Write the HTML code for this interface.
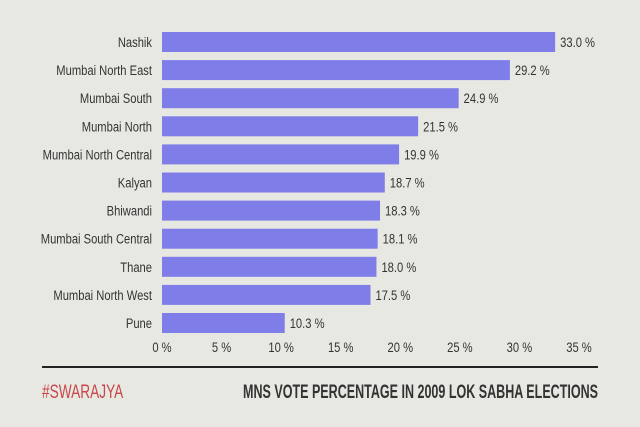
<!DOCTYPE html>
<html><head><meta charset="utf-8"><style>
html,body{margin:0;padding:0;background:#e8e8e3;}
svg{display:block;font-family:"Liberation Sans",sans-serif;}
</style></head><body>
<svg id="chart" width="640" height="427" viewBox="0 0 640 427">
<rect x="0" y="0" width="640" height="427" fill="#e8e8e3"/>
<g id="bars"></g>
<line x1="42" y1="367" x2="598" y2="367" stroke="#222" stroke-width="2"/>
<text x="42" y="398" font-size="19" fill="#c8464a" transform="translate(42,0) scale(0.72,1) translate(-42,0)">#SWARAJYA</text>
<text x="598" y="398" font-size="19" font-weight="bold" fill="#333" text-anchor="end" transform="translate(598,0) scale(0.66,1) translate(-598,0)">MNS VOTE PERCENTAGE IN 2009 LOK SABHA ELECTIONS</text>
</svg>
<script>
const categories=["Nashik","Mumbai North East","Mumbai South","Mumbai North","Mumbai North Central","Kalyan","Bhiwandi","Mumbai South Central","Thane","Mumbai North West","Pune"];
const values=[33.0,29.2,24.9,21.5,19.9,18.7,18.3,18.1,18.0,17.5,10.3];
const ticks=[0,5,10,15,20,25,30,35];
const NS="http://www.w3.org/2000/svg";
const x0=162,x1=579,xmax=35;
const xs=v=>x0+(x1-x0)*v/xmax;
const yTop=32,step=28.1,bh=20;
const ys=i=>yTop+i*step;
const g=document.getElementById('bars');
function mk(t,a){const e=document.createElementNS(NS,t);for(const k in a)e.setAttribute(k,a[k]);return e;}
function narrow(e,x){e.setAttribute('transform',`translate(${x},0) scale(0.8,1) translate(${-x},0)`);}
categories.forEach((c,i)=>{
  const y=ys(i);
  const r=mk('rect',{x:x0,y:y,width:xs(values[i])-x0,height:bh,fill:'#7f7de8'});
  
  
  g.appendChild(r);
  const l=mk('text',{x:152,y:y+bh/2+5,'font-size':14,fill:'#333','text-anchor':'end'});
  l.textContent=c;narrow(l,152);
  
  
  g.appendChild(l);
  const vx=xs(values[i])+5;
  const v=mk('text',{x:vx,y:y+bh/2+5,'font-size':14,fill:'#333'});
  v.textContent=values[i].toFixed(1)+' %';narrow(v,vx);
  
  
  g.appendChild(v);
});
ticks.forEach(t=>{
  const x=xs(t);
  const e=mk('text',{x:x,y:352,'font-size':14,fill:'#333','text-anchor':'middle'});
  e.textContent=t+' %';narrow(e,x);
  
  
  g.appendChild(e);
});
</script>
</body></html>
